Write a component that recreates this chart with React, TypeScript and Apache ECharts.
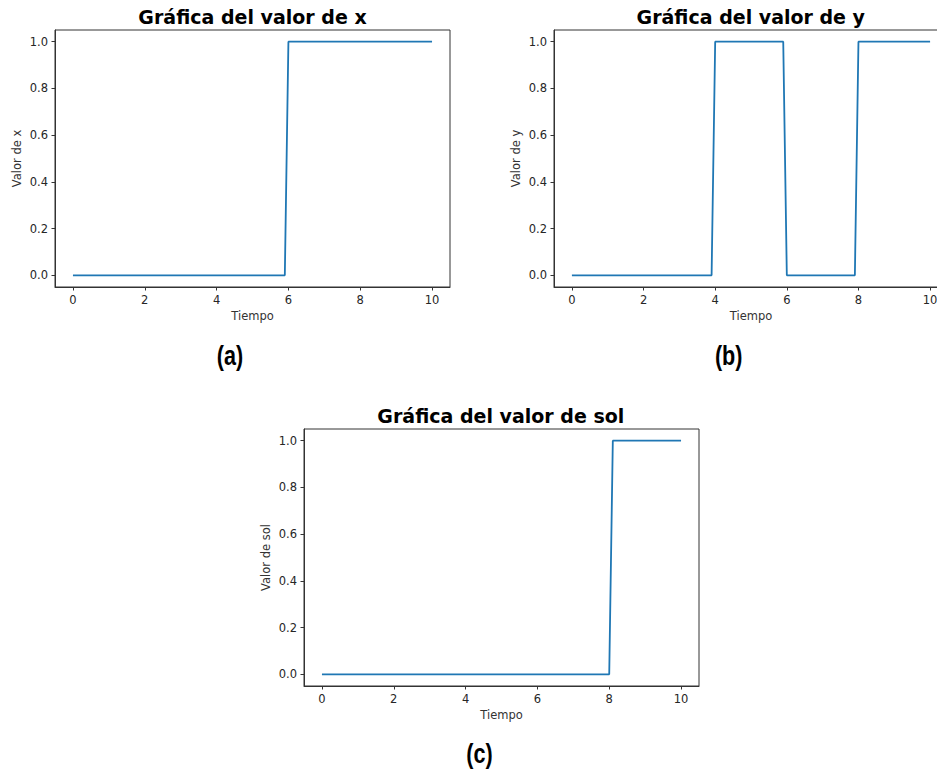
import React, { useEffect, useRef } from "react";
import * as echarts from "echarts";

const timeX = [0, 5.9, 6.0, 10];
const valuesX = [0, 0, 1, 1];
const timeY = [0, 3.9, 4.0, 5.9, 6.0, 7.9, 8.0, 10];
const valuesY = [0, 0, 1, 1, 0, 0, 1, 1];
const timeSol = [0, 8.0, 8.1, 10];
const valuesSol = [0, 0, 1, 1];

const xTicks = [0, 2, 4, 6, 8, 10];
const yTicks = [0, 0.2, 0.4, 0.6, 0.8, 1.0];
const titles = ["Gráfica del valor de x", "Gráfica del valor de y", "Gráfica del valor de sol"];
const yNames = ["Valor de x", "Valor de y", "Valor de sol"];
const xName = "Tiempo";
const panelLabels = ["(a)", "(b)", "(c)"];

const LINE = "#1f77b4";
const AX = "#333";
const FONT = "DejaVu Sans";

export default function App() {
  const ref = useRef<HTMLDivElement>(null);
  useEffect(() => {
    if (!ref.current) return;
    const chart = echarts.init(ref.current, undefined, { renderer: "svg" });
    const grids = [
      { left: 55, top: 30, width: 395, height: 257 },
      { left: 554, top: 30, width: 394, height: 257 },
      { left: 304, top: 429, width: 395, height: 257 },
    ];
    const pairs = [
      timeX.map((t, i) => [t, valuesX[i]]),
      timeY.map((t, i) => [t, valuesY[i]]),
      timeSol.map((t, i) => [t, valuesSol[i]]),
    ];
    const titlePos = [
      [252.5, 17],
      [750.8, 17],
      [500.8, 416],
    ];
    const labelPos = [
      [230, 356],
      [728.7, 356],
      [479.5, 754],
    ];
    const option: any = {
      animation: false,
      backgroundColor: "#fff",
      grid: grids.map((g) => ({ ...g, show: true, borderColor: AX, borderWidth: 1, backgroundColor: "transparent" })),
      xAxis: grids.map((_, i) => ({
        type: "value",
        gridIndex: i,
        min: -0.5,
        max: 10.5,
        name: xName,
        nameLocation: "middle",
        nameGap: 23,
        nameTextStyle: { fontFamily: FONT, fontSize: 11.5, color: "#333" },
        axisLine: { show: true, onZero: false, lineStyle: { color: AX, width: 1 } },
        axisTick: { show: true, length: 3.5, customValues: xTicks, lineStyle: { color: AX } },
        axisLabel: {
          customValues: xTicks,
          margin: 7,
          fontFamily: FONT,
          fontSize: 11.5,
          color: "#262626",
          formatter: (v: number) => String(v),
        },
        splitLine: { show: false },
      })),
      yAxis: grids.map((_, i) => ({
        type: "value",
        gridIndex: i,
        min: -0.05,
        max: 1.05,
        name: yNames[i],
        nameLocation: "middle",
        nameGap: 32,
        nameRotate: 90,
        nameTextStyle: { fontFamily: FONT, fontSize: 11.5, color: "#333" },
        axisLine: { show: true, onZero: false, lineStyle: { color: AX, width: 1 } },
        axisTick: { show: true, length: 3.5, customValues: yTicks, lineStyle: { color: AX } },
        axisLabel: {
          customValues: yTicks,
          margin: 7,
          fontFamily: FONT,
          fontSize: 11.5,
          color: "#262626",
          formatter: (v: number) => v.toFixed(1),
        },
        splitLine: { show: false },
      })),
      series: pairs.map((d, i) => ({
        type: "line",
        xAxisIndex: i,
        yAxisIndex: i,
        data: d,
        showSymbol: false,
        symbol: "none",
        lineStyle: { color: LINE, width: 1.8 },
        clip: false,
      })),
      graphic: [
        ...titles.map((t, i) => ({
          type: "text",
          x: titlePos[i][0],
          y: titlePos[i][1],
          style: {
            text: t,
            textAlign: "center",
            textVerticalAlign: "middle",
            fontFamily: FONT,
            fontWeight: "bold",
            fontSize: 19,
            fill: "#000",
          },
        })),
        ...panelLabels.map((t, i) => ({
          type: "text",
          x: labelPos[i][0],
          y: labelPos[i][1],
          scaleX: 0.8,
          style: {
            text: t,
            textAlign: "center",
            textVerticalAlign: "middle",
            fontFamily: "'Liberation Sans', Arial, sans-serif",
            fontWeight: "bold",
            fontSize: 27,
            fill: "#000",
          },
        })),
      ],
    };
    chart.setOption(option);
    return () => chart.dispose();
  }, []);
  return (
    <div style={{ position: "absolute", left: 0, top: 0, width: 937, height: 769, overflow: "hidden", background: "#fff" }}>
      <div ref={ref} style={{ width: 960, height: 769 }} />
    </div>
  );
}
